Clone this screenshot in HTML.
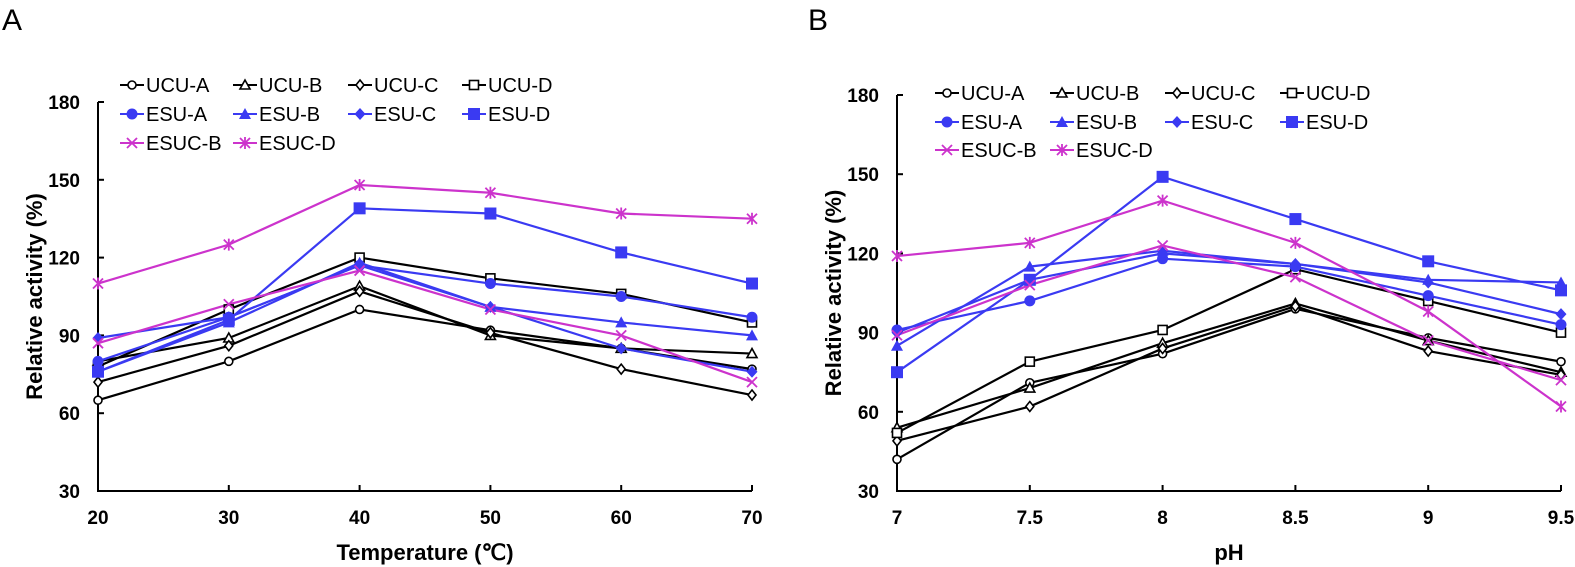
<!DOCTYPE html>
<html><head><meta charset="utf-8">
<style>
html,body{margin:0;padding:0;background:#fff;overflow:hidden;}
svg{display:block;font-family:"Liberation Sans",Arial,sans-serif;}
</style></head>
<body>
<svg id="s" width="1575" height="567" viewBox="0 0 1575 567" xmlns="http://www.w3.org/2000/svg"></svg>
<script>
const S=document.getElementById('s');
let h='';
const K='#000',B='#3a3af2',M='#cc33cc';
function mk(t,x,y,c){
  switch(t){
    case 'oc':return `<circle cx="${x}" cy="${y}" r="4" fill="#fff" stroke="${c}" stroke-width="1.6"/>`;
    case 'ot':return `<path d="M${x},${y-5}L${x+5},${y+4}L${x-5},${y+4}Z" fill="#fff" stroke="${c}" stroke-width="1.6"/>`;
    case 'od':return `<path d="M${x},${y-5}L${x+4},${y}L${x},${y+5}L${x-4},${y}Z" fill="#fff" stroke="${c}" stroke-width="1.6"/>`;
    case 'os':return `<rect x="${x-4.5}" y="${y-4.5}" width="9" height="9" fill="#fff" stroke="${c}" stroke-width="1.6"/>`;
    case 'fc':return `<circle cx="${x}" cy="${y}" r="5.5" fill="${c}"/>`;
    case 'ft':return `<path d="M${x},${y-6}L${x+6},${y+5}L${x-6},${y+5}Z" fill="${c}"/>`;
    case 'fd':return `<path d="M${x},${y-6}L${x+5.5},${y}L${x},${y+6}L${x-5.5},${y}Z" fill="${c}"/>`;
    case 'fs':return `<rect x="${x-6}" y="${y-6}" width="12" height="12" fill="${c}"/>`;
    case 'x':return `<path d="M${x-5},${y-5}L${x+5},${y+5}M${x+5},${y-5}L${x-5},${y+5}" stroke="${c}" stroke-width="1.8"/>`;
    case 'a':return `<path d="M${x-5},${y-5}L${x+5},${y+5}M${x+5},${y-5}L${x-5},${y+5}M${x},${y-6}V${y+6}" stroke="${c}" stroke-width="1.8"/>`;
  }
}
const ser=[['UCU-A','oc',K],['UCU-B','ot',K],['UCU-C','od',K],['UCU-D','os',K],['ESU-A','fc',B],['ESU-B','ft',B],['ESU-C','fd',B],['ESU-D','fs',B],['ESUC-B','x',M],['ESUC-D','a',M]];
function panel(x0,x1,ytop,xl,data,letter,lx,xtitle,leg){
  const yb=491;
  const Y=v=>yb-(v-30)*((yb-ytop)/150);
  h+=`<text x="${lx}" y="30" font-size="30">${letter}</text>`;
  h+=`<path d="M${x0},${ytop}V${yb}H${x1}" stroke="#000" stroke-width="2" fill="none"/>`;
  [30,60,90,120,150,180].forEach(v=>{h+=`<path d="M${x0},${Y(v)}H${x0+6}" stroke="#000" stroke-width="2"/><text x="${x0-18}" y="${Y(v)+7}" font-size="19" font-weight="bold" text-anchor="end">${v}</text>`;});
  const n=xl.length,dx=(x1-x0)/(n-1);
  xl.forEach((t,i)=>{const x=x0+i*dx;h+=`<path d="M${x},${yb}V${yb-6}" stroke="#000" stroke-width="2"/><text x="${x}" y="524" font-size="19" font-weight="bold" text-anchor="middle">${t}</text>`;});
  h+=`<text transform="translate(${x0-56},${(ytop+yb)/2}) rotate(-90)" font-size="22" font-weight="bold" text-anchor="middle">Relative activity (%)</text>`;
  h+=`<text x="${(x0+x1)/2}" y="560" font-size="22" font-weight="bold" text-anchor="middle">${xtitle}</text>`;
  data.forEach((d,k)=>{const c=ser[k][2];const pts=d.map((v,i)=>`${x0+i*dx},${Y(v)}`).join(' ');h+=`<polyline points="${pts}" fill="none" stroke="${c}" stroke-width="2.2"/>`;});
  data.forEach((d,k)=>{d.forEach((v,i)=>{h+=mk(ser[k][1],x0+i*dx,Y(v),ser[k][2]);});});
  const [cx,ry]=leg;
  ser.forEach((s,k)=>{const r=Math.floor(k/4),c=k%4;const x=cx[c],y=ry[r];
    h+=`<path d="M${x},${y}H${x+24}" stroke="${s[2]}" stroke-width="2"/>`+mk(s[1],x+12,y,s[2])+`<text x="${x+26}" y="${y+7}" font-size="20">${s[0]}</text>`;});
}
panel(98,752,102,[20,30,40,50,60,70],[
[65,80,100,92,85,77],[80,89,109,90,85,83],[72,86,107,91,77,67],[78,100,120,112,106,95],
[80,97,117,110,105,97],[76,95,118,101,95,90],[89,97,117,101,85,76],[76,96,139,137,122,110],
[87,102,115,100,90,72],[110,125,148,145,137,135]],'A',2,'Temperature (℃)',[[120,233,348,462],[85,114,143]]);
panel(897,1561,95,[7,7.5,8,8.5,9,9.5],[
[42,71,82,99,88,79],[54,69,86,101,87,75],[49,62,84,100,83,74],[52,79,91,114,102,90],
[91,102,118,115,104,93],[85,115,121,116,110,109],[90,110,120,116,109,97],[75,110,149,133,117,106],
[89,108,123,111,87,72],[119,124,140,124,98,62]],'B',808,'pH',[[935,1050,1165,1280],[93,122,150]]);
S.innerHTML=h;
</script>
</body></html>
